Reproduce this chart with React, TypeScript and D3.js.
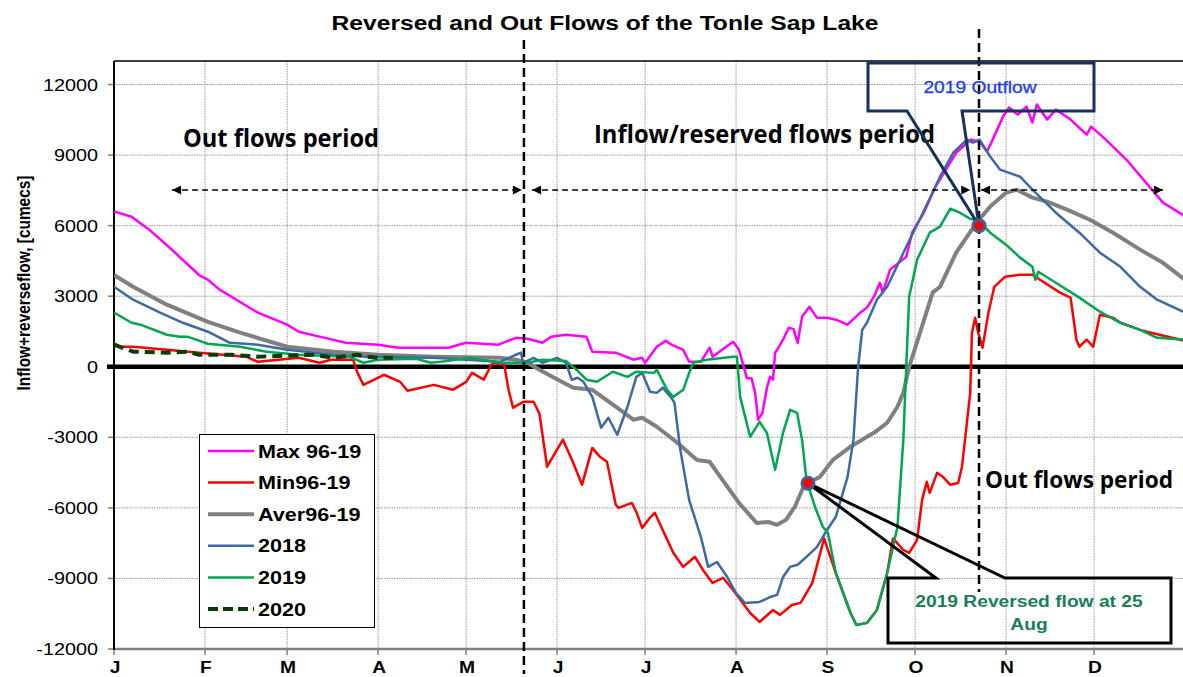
import React, { useEffect, useRef } from "react";
import * as d3 from "d3";

const W = 1183;
const H = 677;

// month axis (day of year where each month starts)
const monthLabels = ["J", "F", "M", "A", "M", "J", "J", "A", "S", "O", "N", "D"];
const monthStartDays = [0, 31, 59, 90, 120, 151, 181, 212, 243, 273, 304, 334];
const yTicks = [12000, 9000, 6000, 3000, 0, -3000, -6000, -9000, -12000];

// Max 96-19
const maxDays = [0, 6, 12, 19, 29, 32, 36, 49, 59, 63, 70, 79, 90, 97, 114, 120, 131, 137, 141, 146, 149, 154, 161, 163, 171, 177, 180, 181, 185, 188, 190, 194, 196, 200, 203, 204, 211, 213, 215.7, 217.3, 218.5, 219.5, 221, 222.6, 223.6, 224.6, 225.3, 226, 228, 230, 231.6, 233, 234.5, 237, 239.6, 243, 246, 250, 254.3, 256.6, 259, 261, 262, 264.5, 270, 272, 276, 280, 287, 292, 295, 297.5, 299, 303, 305, 308, 311, 313, 314.5, 318, 321, 326, 331.5, 333, 338, 345, 350, 357.5, 365];
const maxVals = [6600, 6380, 5830, 5060, 3900, 3700, 3280, 2300, 1790, 1490, 1280, 1020, 940, 810, 810, 1020, 940, 1230, 1190, 1020, 1280, 1360, 1280, 640, 600, 300, 380, 170, 850, 1100, 940, 720, 210, 210, 810, 430, 1060, 720, -480, -500, -1110, -2250, -1960, -850, -430, -550, 600, 720, 1150, 1660, 1600, 1020, 2130, 2550, 2080, 2080, 2000, 1790, 2300, 2510, 2980, 3570, 3150, 4130, 4680, 5700, 6550, 7660, 9100, 9660, 9570, 9150, 9530, 10640, 11020, 10720, 11060, 10380, 11150, 10510, 10940, 10510, 9870, 10210, 9660, 8810, 8080, 6980, 6400];

// Min96-19
const minDays = [0, 2, 6.5, 18, 29, 45, 49, 63, 70, 74, 81.5, 83, 85, 92, 97.5, 100, 109, 115.5, 120, 122, 126, 129, 133, 134.5, 136, 139.5, 143, 145, 147.6, 153, 156.5, 159.5, 163, 165.6, 168, 171, 172, 176.5, 178, 180, 182.6, 184.3, 187, 190.6, 194, 198, 200.7, 204, 207.6, 211, 216.8, 220, 224.6, 227, 231, 234, 238, 242, 246, 251, 253, 256.6, 260, 263.5, 265.5, 269, 271, 273.7, 275.4, 277, 278, 280.5, 282.5, 285, 287.7, 289, 291.8, 292.4, 293.5, 294.5, 296, 298, 300, 303.7, 308.8, 313, 315.6, 322.4, 326, 328, 329, 331.5, 333.7, 336, 340.5, 343, 349.7, 352, 365];
const minVals = [1000, 850, 850, 720, 600, 430, 210, 380, 170, 300, 300, -260, -770, -340, -640, -1020, -770, -980, -640, -260, -550, 170, 85, -1000, -1740, -1490, -1490, -2000, -4250, -3100, -4080, -5020, -3450, -3830, -4040, -5870, -6000, -5790, -6170, -6850, -6430, -6210, -6940, -7910, -8510, -8080, -8640, -9190, -8980, -9490, -10470, -10850, -10340, -10550, -10130, -10040, -9190, -7300, -8770, -10470, -10980, -10890, -10340, -8770, -7300, -7790, -7910, -7360, -5660, -4890, -5360, -4510, -4680, -5020, -4940, -4250, -1110, 1450, 2080, 1450, 810, 2300, 3400, 3830, 3910, 3910, 3700, 3150, 2940, 1150, 850, 1150, 850, 2210, 2080, 1870, 1570, 1490, 1100];

// Aver96-19
const avgDays = [0, 6.5, 18, 32, 43, 59, 75, 90, 109, 131.5, 137, 141, 145, 150, 156.5, 163, 171, 177, 180, 185, 192, 198.7, 203, 209, 213, 219, 223, 226, 229, 232, 235, 237, 240.6, 245, 251, 256.6, 259, 263.5, 267, 269, 271, 274.7, 279, 281.5, 287, 294, 298.6, 304, 307.7, 313, 318, 324.8, 332.6, 340.5, 349.7, 357.5, 365];
const avgVals = [3900, 3400, 2640, 1910, 1450, 850, 640, 510, 430, 380, 300, 170, -130, -470, -890, -980, -1700, -2250, -2170, -2550, -3230, -3960, -4040, -5100, -5790, -6640, -6600, -6720, -6510, -5960, -5100, -4900, -4680, -3960, -3400, -2980, -2810, -2380, -1700, -1110, 0, 1450, 3150, 3400, 4850, 6130, 6810, 7400, 7530, 7190, 7020, 6680, 6250, 5700, 4980, 4420, 3700];

// 2018
const y2018Days = [0, 6.5, 15.7, 23.5, 32, 39.5, 49, 59, 75, 86, 109, 120, 131.5, 137, 138.7, 139.4, 143, 146, 151, 154, 156, 158, 160, 163, 166, 168.5, 171.5, 175, 178, 180, 182.7, 185, 187, 190, 191, 193, 196, 200, 202.5, 205.5, 209, 212, 215, 220, 223.6, 226, 228, 230.4, 233, 236, 239.6, 243, 246, 250, 252, 253.6, 255, 256.6, 260, 263.5, 270, 275.7, 281.5, 286, 290.7, 292.7, 295, 298.6, 302, 308.8, 313, 321, 329, 336, 343, 349.7, 355.5, 365];
const y2018Vals = [3400, 2850, 2300, 1870, 1490, 1020, 940, 720, 510, 430, 380, 300, 210, 510, 600, 170, 380, 170, 380, 170, -550, -470, -640, -1280, -2590, -2170, -2890, -1700, -430, -260, -1060, -1110, -890, -1320, -1530, -3530, -5660, -7230, -8510, -8300, -8940, -9620, -10040, -10000, -9790, -9700, -8940, -8510, -8420, -8080, -7660, -6940, -6380, -4680, -3110, 0, 1570, 1870, 2850, 3400, 5100, 6550, 8080, 9100, 9660, 9530, 9660, 8940, 8380, 8080, 7530, 6550, 5700, 4850, 4250, 3400, 2850, 2300];

// 2019
const y2019Days = [0, 6, 9, 18, 22.5, 25, 32, 43, 52, 63, 80, 85, 90, 103, 108, 114, 121, 131.5, 141, 146, 154, 158, 161, 164.6, 170, 175, 178, 184, 185, 188.5, 190.6, 194, 196, 197.4, 202, 211, 212.3, 213.4, 216.8, 220, 222.5, 225.3, 228, 230.4, 232.8, 234.5, 236, 238.9, 241.6, 243.3, 246, 251, 253, 256.6, 260, 263.5, 267, 269, 270, 271, 273.7, 278, 281.5, 285, 288.3, 291.7, 295, 298.6, 304, 308.8, 313, 314, 315, 321, 329, 336, 343, 349.7, 355.5, 365];
const y2019Vals = [2300, 1870, 1790, 1360, 1280, 1280, 980, 850, 640, 510, 430, 170, 300, 340, 170, 250, 380, 170, 170, 300, 250, -170, -550, -640, -210, -430, -210, -260, -130, -980, -1280, -980, -260, 170, 300, 430, 430, -1280, -2980, -2340, -2810, -4380, -2810, -1830, -1960, -3110, -4810, -5960, -6810, -7060, -8770, -10470, -10980, -10890, -10340, -8770, -6810, -3110, 0, 2980, 4550, 5700, 5960, 6720, 6550, 6300, 6170, 5700, 5190, 4640, 4250, 3700, 4040, 3570, 2940, 2340, 1870, 1570, 1230, 1150];

// 2020 (only to early April)
const y2020Days = [0, 6.5, 18, 25, 29, 40, 49, 59, 68, 75, 83, 86, 90, 95];
const y2020Vals = [940, 640, 600, 640, 510, 510, 430, 470, 510, 380, 510, 430, 380, 380];

const seriesNames = ["Max 96-19", "Min96-19", "Aver96-19", "2018", "2019", "2020"];
const seriesDays = [maxDays, minDays, avgDays, y2018Days, y2019Days, y2020Days];
const seriesVals = [maxVals, minVals, avgVals, y2018Vals, y2019Vals, y2020Vals];
const seriesColors = ["#ff00ff", "#ff0000", "#808080", "#3d6aa2", "#00a650", "#0b3d0b"];
const seriesWidths = [2.5, 2.5, 4, 2.5, 2.5, 4];
const seriesDash = [null, null, null, null, null, "10,6"];

// period boundaries and annotation points (day of year, value)
const boundaryDays = [139.7, 294.8];
const arrowSpans = [[19.8, 139], [142.5, 291.8], [295.5, 357.5]];
const outflowPoint = [294.8, 6000];
const reversedPoint = [236.5, -4950];

const FONT = "'Liberation Sans', Arial, sans-serif";
const CAL = "'Open Sans', 'Noto Sans', sans-serif";

export default function App() {
  const ref = useRef<SVGSVGElement>(null);

  useEffect(() => {
    if (!ref.current) return;
    const svg = d3.select(ref.current);
    svg.selectAll("*").remove();

    const left = 114, right = 1185, top = 61, bottom = 649;
    const x = d3.scaleLinear().domain([0, 365]).range([left, right]);
    const y = d3.scaleLinear().domain([-12000, 13000]).range([bottom, top]);

    // widen text horizontally like the stretched original
    const stretch = (sel: any, k: number) =>
      sel.each(function (this: SVGTextElement) {
        const w = this.getComputedTextLength();
        this.setAttribute("textLength", String(w * k));
        this.setAttribute("lengthAdjust", "spacingAndGlyphs");
      });

    const defs = svg.append("defs");
    defs.append("clipPath").attr("id", "plotClip")
      .append("rect").attr("x", left).attr("y", top).attr("width", W - left).attr("height", bottom - top);
    defs.append("marker")
      .attr("id", "arrowHead")
      .attr("viewBox", "0 0 10 10")
      .attr("refX", 10).attr("refY", 5)
      .attr("markerWidth", 10).attr("markerHeight", 9)
      .attr("markerUnits", "userSpaceOnUse")
      .attr("orient", "auto-start-reverse")
      .append("path").attr("d", "M0,0L10,5L0,10Z").attr("fill", "#000");

    svg.append("rect").attr("width", W).attr("height", H).attr("fill", "#fff");

    // grid
    const grid = svg.append("g").attr("stroke", "#9a9a9a").attr("stroke-width", 1).attr("stroke-dasharray", "1.5,1");
    grid.selectAll("line.h").data(yTicks.filter((t) => t > -12000 && t !== 0)).join("line")
      .attr("x1", left).attr("x2", W).attr("y1", (d) => y(d)).attr("y2", (d) => y(d));
    grid.selectAll("line.v").data(monthStartDays.slice(1)).join("line")
      .attr("x1", (d) => x(d)).attr("x2", (d) => x(d)).attr("y1", top).attr("y2", bottom);

    // frame
    svg.append("line").attr("x1", left).attr("x2", W).attr("y1", top).attr("y2", top)
      .attr("stroke", "#000").attr("stroke-width", 1.5);
    svg.append("line").attr("x1", left).attr("x2", W).attr("y1", bottom).attr("y2", bottom)
      .attr("stroke", "#808080").attr("stroke-width", 2.5);
    svg.append("g").selectAll("line").data(monthStartDays).join("line")
      .attr("x1", (d) => x(d)).attr("x2", (d) => x(d)).attr("y1", bottom).attr("y2", bottom + 6)
      .attr("stroke", "#808080").attr("stroke-width", 1.5);
    svg.append("g").selectAll("line").data(yTicks).join("line")
      .attr("x1", left - 6).attr("x2", left).attr("y1", (d) => y(d)).attr("y2", (d) => y(d))
      .attr("stroke", "#808080").attr("stroke-width", 1.5);
    svg.append("line").attr("x1", left).attr("x2", left).attr("y1", top).attr("y2", bottom + 1)
      .attr("stroke", "#000").attr("stroke-width", 2);

    // tick labels
    stretch(svg.append("g").selectAll("text").data(yTicks).join("text")
      .attr("x", 98).attr("y", (d) => y(d) + 6)
      .attr("text-anchor", "end").attr("font-family", FONT).attr("font-size", 16.5).attr("fill", "#000")
      .text((d) => String(d)), 1.2);
    stretch(svg.append("g").selectAll("text").data(monthStartDays).join("text")
      .attr("x", (d) => x(d) + 1).attr("y", 673)
      .attr("text-anchor", "middle").attr("font-family", FONT).attr("font-weight", "bold").attr("font-size", 16)
      .text((d, i) => monthLabels[i]), 1.2);

    // zero line
    svg.append("line").attr("x1", left - 7).attr("x2", W).attr("y1", y(0)).attr("y2", y(0))
      .attr("stroke", "#000").attr("stroke-width", 4.5);

    // series
    const line = d3.line<[number, number]>().x((d) => x(d[0])).y((d) => y(d[1]));
    const plot = svg.append("g").attr("clip-path", "url(#plotClip)");
    seriesNames.forEach((name, i) => {
      const pts = seriesDays[i].map((d, j) => [d, seriesVals[i][j]] as [number, number]);
      plot.append("path").datum(pts)
        .attr("d", line)
        .attr("fill", "none")
        .attr("stroke", seriesColors[i])
        .attr("stroke-width", seriesWidths[i])
        .attr("stroke-linejoin", "round")
        .attr("stroke-dasharray", seriesDash[i]);
    });

    // period boundaries
    svg.append("line").attr("x1", x(boundaryDays[0])).attr("x2", x(boundaryDays[0])).attr("y1", 40).attr("y2", 674)
      .attr("stroke", "#000").attr("stroke-width", 2.5).attr("stroke-dasharray", "9,5");
    svg.append("line").attr("x1", x(boundaryDays[1])).attr("x2", x(boundaryDays[1])).attr("y1", 29).attr("y2", 592)
      .attr("stroke", "#000").attr("stroke-width", 2.5).attr("stroke-dasharray", "9,5");

    // period arrows
    svg.append("g").selectAll("line").data(arrowSpans).join("line")
      .attr("x1", (d) => x(d[0])).attr("x2", (d) => x(d[1])).attr("y1", 190).attr("y2", 190)
      .attr("stroke", "#000").attr("stroke-width", 1.5).attr("stroke-dasharray", "6,4")
      .attr("marker-start", "url(#arrowHead)").attr("marker-end", "url(#arrowHead)");

    // period labels
    const periodLabels: [string, number, number, number, number][] = [
      ["Out flows period", 183, 147, 196, 25],
      ["Inflow/reserved flows period", 594, 143, 341, 25],
      ["Out flows period", 985, 488, 188, 24],
    ];
    periodLabels.forEach(([t, px, py, len, fs]) => {
      svg.append("text").attr("x", px).attr("y", py)
        .attr("font-family", CAL).attr("font-weight", "bold").attr("font-size", fs)
        .attr("textLength", len).attr("lengthAdjust", "spacingAndGlyphs")
        .attr("fill", "#000").text(t);
    });

    // title
    svg.append("text").attr("x", 605).attr("y", 30).attr("text-anchor", "middle")
      .attr("font-family", FONT).attr("font-weight", "bold").attr("font-size", 19.5)
      .attr("textLength", 547).attr("lengthAdjust", "spacingAndGlyphs")
      .text("Reversed and Out Flows of the Tonle Sap Lake");

    // y label
    svg.append("text")
      .attr("transform", "translate(30,283) rotate(-90) scale(1,1.2)")
      .attr("text-anchor", "middle")
      .attr("font-family", FONT).attr("font-weight", "bold").attr("font-size", 16)
      .attr("textLength", 215).attr("lengthAdjust", "spacingAndGlyphs")
      .text("Inflow+reverseflow, [cumecs]");

    // 2019 Outflow callout
    const ox = x(outflowPoint[0]), oy = y(outflowPoint[1]);
    svg.append("path")
      .attr("d", `M868,63L1094,63L1094,111L962,111L${ox},${oy}L907,111L868,111Z`)
      .attr("fill", "none").attr("stroke", "#17305e").attr("stroke-width", 3).attr("stroke-linejoin", "miter");
    stretch(svg.append("text").attr("x", 980).attr("y", 93).attr("text-anchor", "middle")
      .attr("font-family", FONT).attr("font-size", 16).attr("fill", "#1f3fe6").attr("stroke", "#1f3fe6").attr("stroke-width", 0.3)
      .text("2019 Outflow"), 1.2);

    // reversed flow callout
    const rx = x(reversedPoint[0]), ry = y(reversedPoint[1]);
    svg.append("path")
      .attr("d", `M888,578L936,578L${rx},${ry}L1005,578L1171,578L1171,643L888,643Z`)
      .attr("fill", "none").attr("stroke", "#000").attr("stroke-width", 3).attr("stroke-linejoin", "miter");
    stretch(svg.append("text").attr("x", 1029).attr("y", 607).attr("text-anchor", "middle")
      .attr("font-family", FONT).attr("font-weight", "bold").attr("font-size", 16).attr("fill", "#17805a")
      .text("2019 Reversed flow at 25"), 1.2);
    stretch(svg.append("text").attr("x", 1029).attr("y", 630).attr("text-anchor", "middle")
      .attr("font-family", FONT).attr("font-weight", "bold").attr("font-size", 16).attr("fill", "#17805a")
      .text("Aug"), 1.2);

    // markers
    [[ox, oy], [rx, ry]].forEach(([cx, cy]) => {
      svg.append("circle").attr("cx", cx).attr("cy", cy).attr("r", 6)
        .attr("fill", "#ff0000").attr("stroke", "#41618f").attr("stroke-width", 3);
    });

    // legend
    const lg = svg.append("g");
    lg.append("rect").attr("x", 199.5).attr("y", 434.5).attr("width", 175).attr("height", 193)
      .attr("fill", "#fff").attr("stroke", "#000").attr("stroke-width", 1);
    seriesNames.forEach((name, i) => {
      const ly = 451 + i * 31.6;
      lg.append("line").attr("x1", 208).attr("x2", 254).attr("y1", ly).attr("y2", ly)
        .attr("stroke", seriesColors[i]).attr("stroke-width", seriesWidths[i])
        .attr("stroke-dasharray", seriesDash[i] ? "10,5" : null);
      stretch(lg.append("text").attr("x", 258).attr("y", ly + 6.5)
        .attr("font-family", FONT).attr("font-weight", "bold").attr("font-size", 18)
        .text(name), 1.2);
    });
  }, []);

  return (
    <div style={{ position: "absolute", left: 0, top: 0 }}>
      <svg ref={ref} width={W} height={H} style={{ display: "block" }} />
    </div>
  );
}
